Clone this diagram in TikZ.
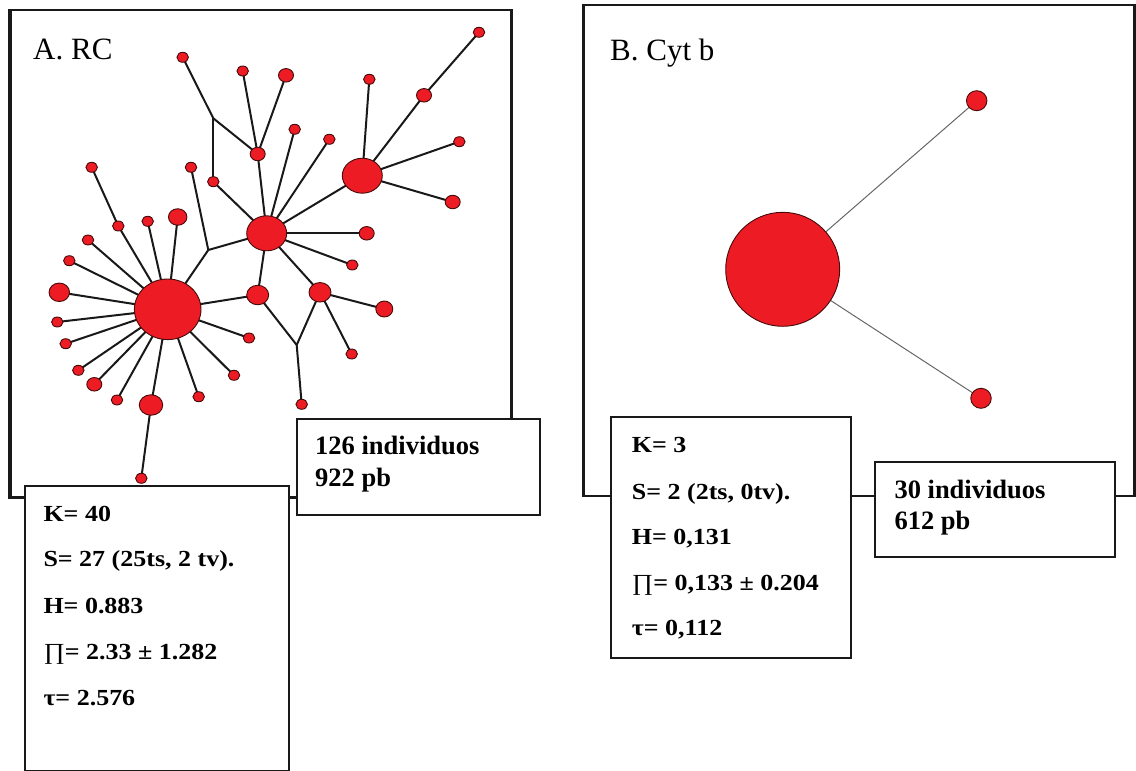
\documentclass[tikz,border=0pt]{standalone}
\usepackage{fontspec}
\setmainfont{Liberation Serif}
\newfontfamily\statfont{Liberation Serif}[FakeStretch=1.13]
\usetikzlibrary{shapes.geometric}
\definecolor{hapred}{RGB}{237,28,36}
\definecolor{hapedge}{RGB}{70,10,10}
\pgfdeclarelayer{background}
\pgfsetlayers{background,main}
% product sign set in the regular weight, as in the statistics lines
\newcommand{\prodsign}{{\mdseries ∏}}

\begin{document}
\begin{tikzpicture}[x=1pt,y=-1pt,
  hap/.style={ellipse,fill=hapred,draw=hapedge,line width=0.9pt,inner sep=0pt},
  hs/.style={hap,minimum width=11.5pt,minimum height=10pt},
  hm/.style={hap,minimum width=15pt,minimum height=13.5pt},
  hl/.style={hap,minimum width=18.5pt,minimum height=16.5pt},
  hxl/.style={hap,minimum width=22pt,minimum height=19.5pt},
  link/.style={line width=2pt,draw=black!90},
  thinlink/.style={line width=1pt,draw=black!60},
  frame/.style={line width=2.3pt,draw=black!90,line join=miter},
  infobox/.style={draw=black!90,fill=white,line width=2pt,rectangle,anchor=north west,inner sep=0pt},
  title/.style={anchor=base west,inner sep=0pt,font=\fontsize{31}{31}\selectfont},
  stat/.style={anchor=base west,inner sep=0pt,font=\statfont\bfseries\fontsize{23}{23}\selectfont},
  count/.style={anchor=base west,inner sep=0pt,font=\bfseries\fontsize{26.5}{26.5}\selectfont},
]
\useasboundingbox (0,0) rectangle (1136,771);

% ---------- panel A: frame ----------
\draw[frame] (24,497.5) -- (10,497.5);
\draw[frame,line width=4pt] (10,499) -- (10,10);
\draw[frame] (8,10) -- (511.5,10) -- (511.5,418);
\draw[frame] (287.5,497.5) -- (296,497.5);

% ---------- panel B: frame ----------
\draw[frame] (610,496) -- (583.5,496) -- (583.5,5) -- (1134.5,5) -- (1134.5,496) -- (1114,496);
\draw[frame] (850.3,496) -- (873.5,496);

% ---------- information boxes ----------
\node[infobox,minimum width=263.5pt,minimum height=285pt] (statA) at (24,485) {};
\node[infobox,minimum width=242.5pt,minimum height=96pt] (indA) at (296,418) {};
\node[infobox,minimum width=240.3pt,minimum height=241pt] (statB) at (610,415.7) {};
\node[infobox,minimum width=240.5pt,minimum height=95pt] (indB) at (873.5,461) {};

% ---------- titles ----------
\node[title] (titleA) at (33,59.5) {A. RC};
\node[title] (titleB) at (610,60) {B. Cyt b};

% ---------- statistics, RC ----------
\node[stat] (kA) at (43.3,521.7) {K= 40};
\node[stat] (sA) at (43.3,566.7) {S= 27 (25ts, 2 tv).};
\node[stat] (hA) at (43.3,613.3) {H= 0.883};
\node[stat] (pA) at (43.3,659.3) {\prodsign= 2.33 ± 1.282};
\node[stat] (tA) at (43.3,705) {τ= 2.576};
\node[count] (nA) at (315,454) {126 individuos};
\node[count] (bpA) at (315,486) {922 pb};

% ---------- statistics, Cyt b ----------
\node[stat] (kB) at (631.7,452.7) {K= 3};
\node[stat] (sB) at (631.7,499) {S= 2 (2ts, 0tv).};
\node[stat] (hB) at (631.7,544.3) {H= 0,131};
\node[stat] (pB) at (631.7,590) {\prodsign= 0,133 ± 0.204};
\node[stat] (tB) at (631.7,635) {τ= 0,112};
\node[count] (nB) at (894.3,498.3) {30 individuos};
\node[count] (bpB) at (894.3,529.3) {612 pb};

% ---------- RC haplotype network ----------
\node[hap,minimum width=66.6pt,minimum height=60.6pt] (h1) at (167.7,309.3) {};
\node[hap,minimum width=40pt,minimum height=35pt] (h2) at (266.7,233.3) {};
\node[hap,minimum width=40pt,minimum height=35pt] (h3) at (362.3,175.7) {};

\node[hs] (a1) at (91.7,167.3) {};
\node[hs] (a2) at (118.3,226) {};
\node[hs] (a3) at (147.7,221.3) {};
\node[hl] (a4) at (177.7,217) {};
\node[hs] (a5) at (88,240) {};
\node[hs] (a6) at (69.3,260.7) {};
\node[hap,minimum width=20.5pt,minimum height=18.5pt] (a7) at (59.3,292.3) {};
\node[hs] (a8) at (57.3,322) {};
\node[hs] (a9) at (65.7,343.7) {};
\node[hs] (a10) at (78.3,370.3) {};
\node[hm] (a11) at (94.3,384.3) {};
\node[hs] (a12) at (117,400) {};
\node[hap,minimum width=23.5pt,minimum height=20.5pt] (a13) at (151,405) {};
\node[hs] (a14) at (141.3,478.3) {};
\node[hs] (a15) at (198.7,396.7) {};
\node[hs] (a16) at (234,375.3) {};
\node[hs] (a17) at (249,338) {};
\node[hxl] (b1) at (257.7,295) {};
\node[hs] (b2) at (191,167.3) {};
\coordinate (j1) at (208.3,250);

\node[hs] (c1) at (213.3,181.7) {};
\coordinate (j2) at (213.3,118.3);
\node[hs] (c2) at (182.7,57.3) {};
\node[hm] (c3) at (257.7,154) {};
\node[hs] (c4) at (242.7,71) {};
\node[hm] (c5) at (286,75.3) {};
\node[hs] (c6) at (294.7,129.3) {};
\node[hs] (c7) at (329.3,139.3) {};
\node[hm] (c8) at (366.7,233.3) {};
\node[hs] (c9) at (352.3,265) {};
\node[hxl] (c10) at (320,292.3) {};
\node[hap,minimum width=17pt,minimum height=16pt] (c11) at (384.3,309) {};
\node[hs] (c12) at (351.7,354) {};
\coordinate (j3) at (296.7,345);
\node[hs] (c13) at (301.7,404.3) {};

\node[hs] (d1) at (369.3,79.3) {};
\node[hm] (d2) at (424,95.3) {};
\node[hs] (d3) at (479,32.3) {};
\node[hs] (d4) at (459.3,141.7) {};
\node[hm] (d5) at (452.7,202) {};

% ---------- Cyt b haplotype network ----------
\node[hap,minimum size=114pt] (e0) at (782.7,269.3) {};
\node[hap,minimum width=20.5pt,minimum height=20pt] (e1) at (976.7,100.7) {};
\node[hap,minimum width=20.5pt,minimum height=20pt] (e2) at (981,398.3) {};

% ---------- connectors, drawn under the haplotypes ----------
\begin{pgfonlayer}{background}
  \foreach \n in {a2,a3,a4,a5,a6,a7,a8,a9,a10,a11,a12,a13,a15,a16,a17,b1}
    \draw[link] (h1.center) -- (\n.center);
  \draw[link] (a2.center) -- (a1.center);
  \draw[link] (a13.center) -- (a14.center);
  \draw[link] (h1.center) -- (j1) -- (h2.center);
  \draw[link] (j1) -- (b2.center);

  \foreach \n in {c1,c3,c6,c7,c8,c9,c10,b1,h3}
    \draw[link] (h2.center) -- (\n.center);
  \draw[link] (c1.center) -- (j2);
  \draw[link] (c2.center) -- (j2) -- (c3.center);
  \draw[link] (c3.center) -- (c4.center);
  \draw[link] (c3.center) -- (c5.center);
  \draw[link] (c10.center) -- (c11.center);
  \draw[link] (c10.center) -- (c12.center);
  \draw[link] (c10.center) -- (j3);
  \draw[link] (b1.center) -- (j3) -- (c13.center);

  \foreach \n in {d1,d2,d4,d5}
    \draw[link] (h3.center) -- (\n.center);
  \draw[link] (d2.center) -- (d3.center);

  \draw[thinlink] (e0.center) -- (e1.center);
  \draw[thinlink] (e0.center) -- (e2.center);
\end{pgfonlayer}
\end{tikzpicture}
\end{document}
